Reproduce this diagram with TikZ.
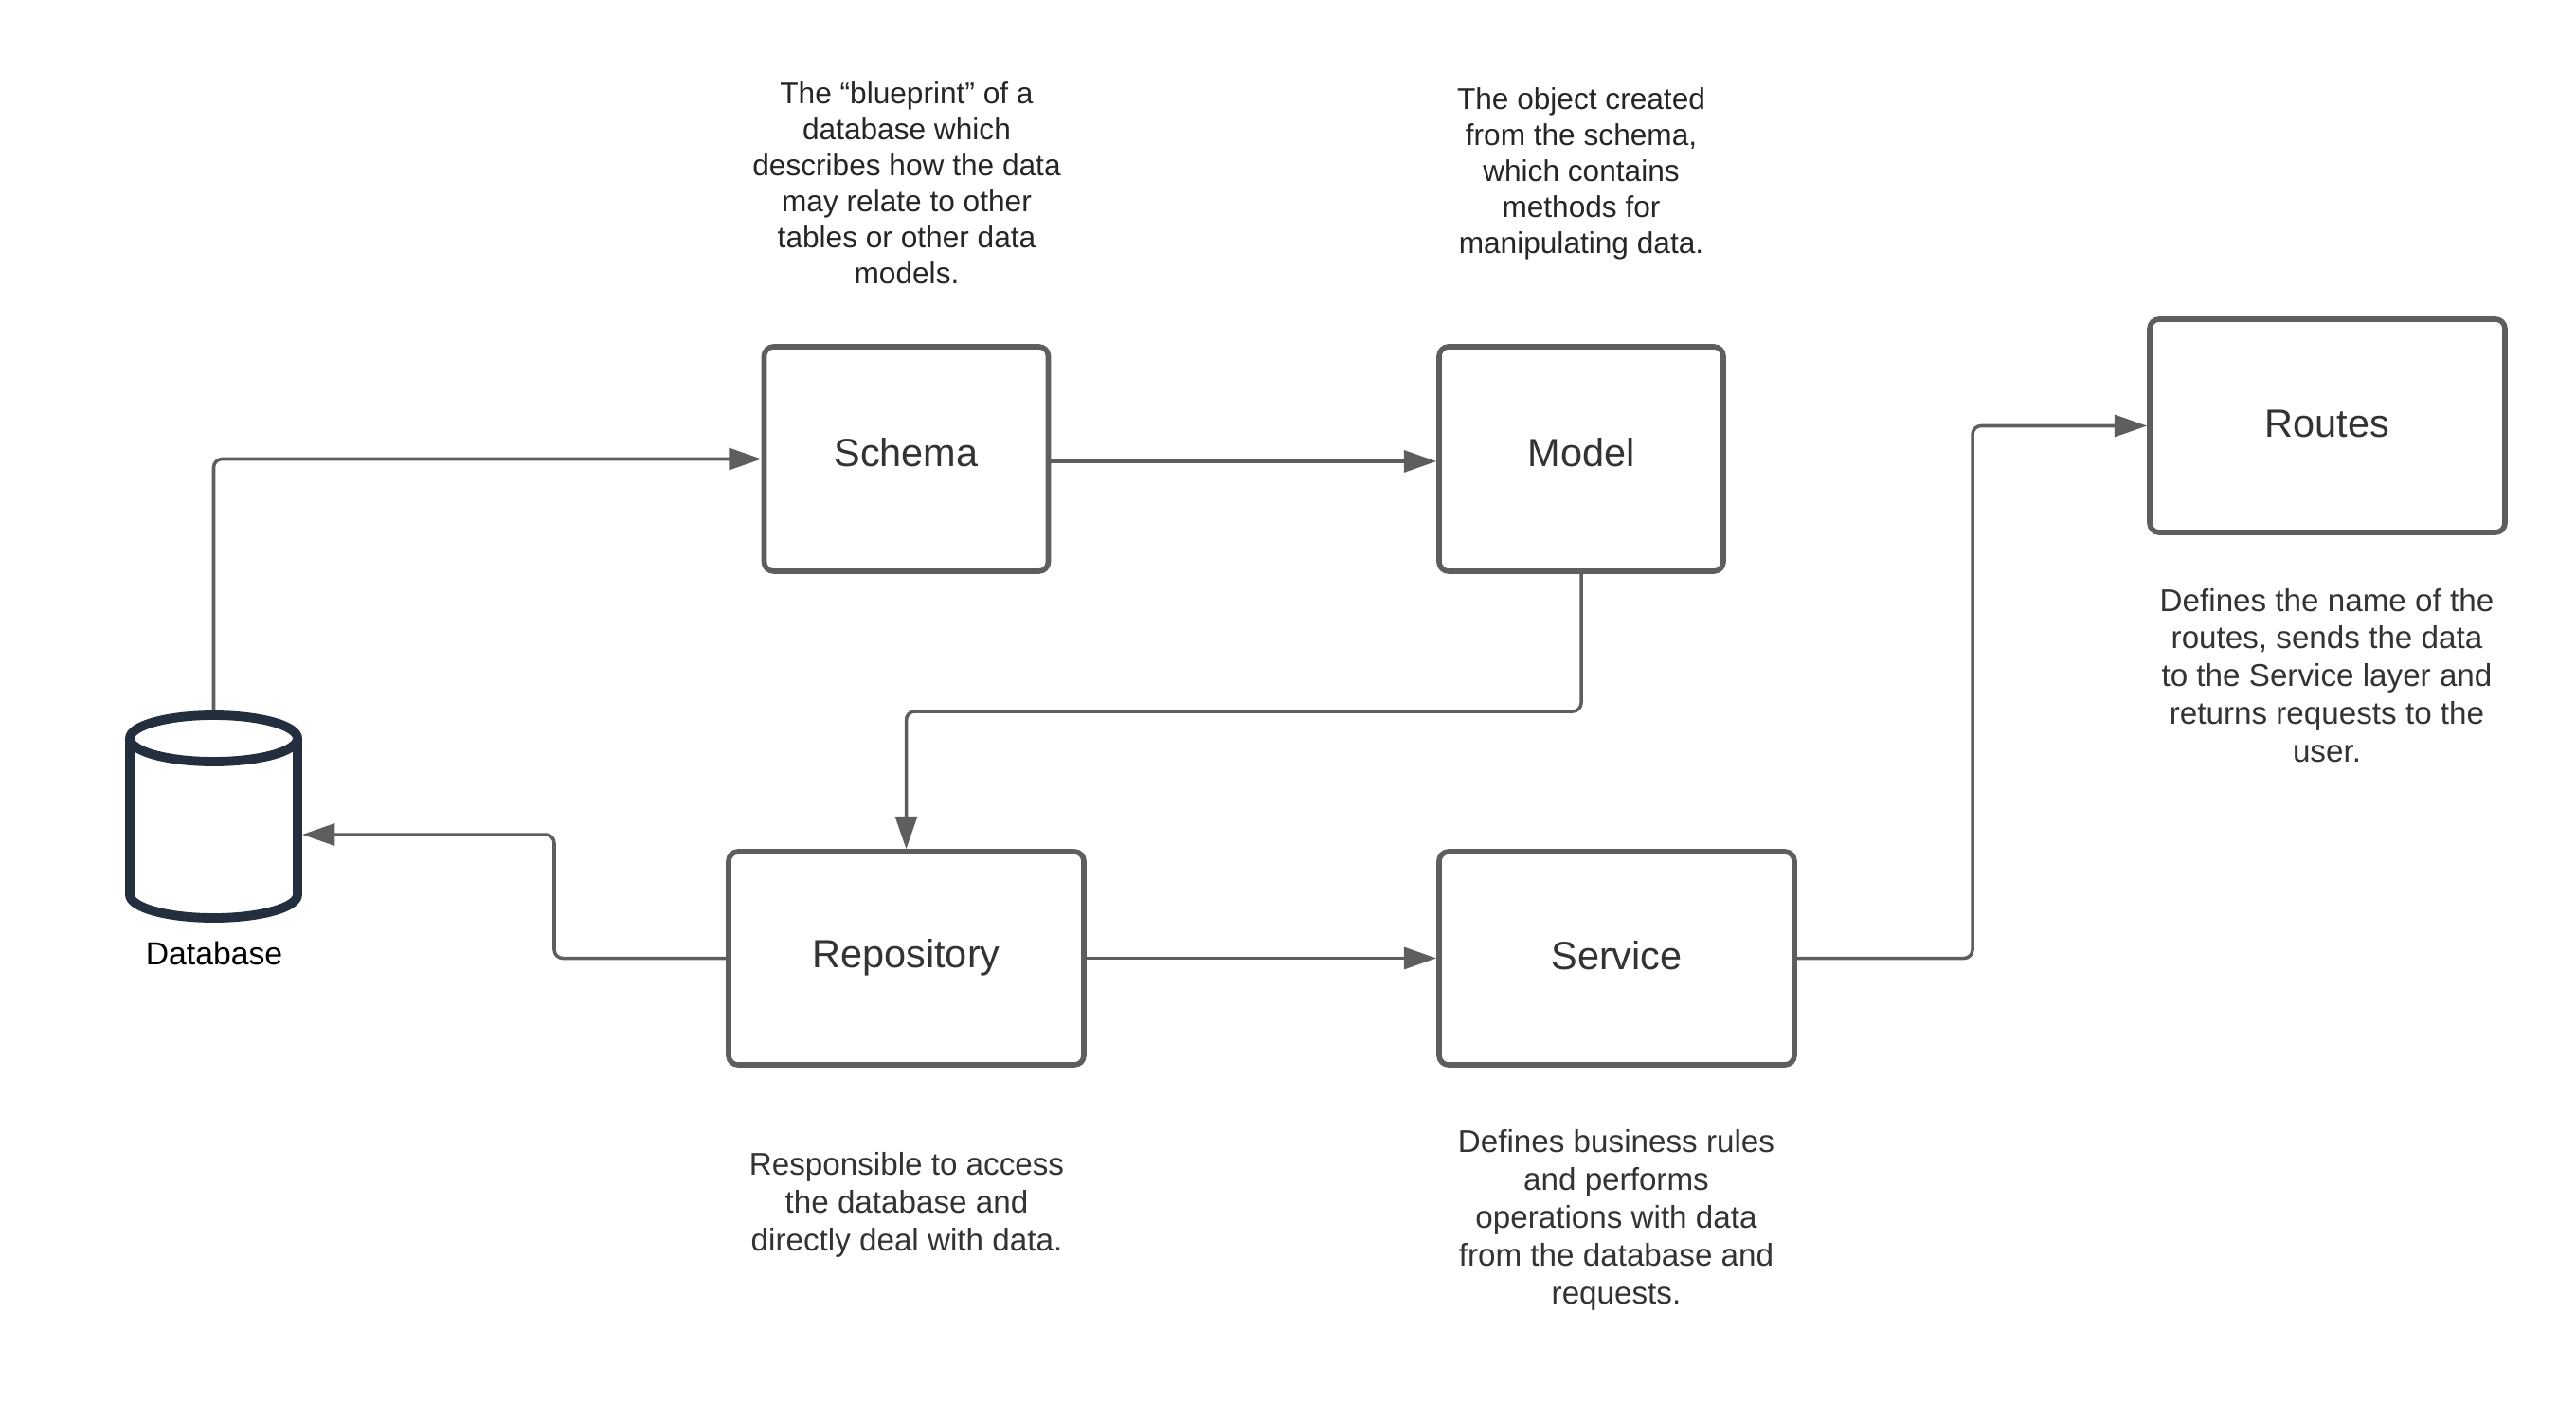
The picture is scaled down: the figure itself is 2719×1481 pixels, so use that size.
\documentclass[tikz,border=0pt]{standalone}
\usepackage{fontspec}
\setmainfont{Liberation Sans}
\usetikzlibrary{arrows.meta}
\definecolor{boxline}{HTML}{5E5E5E}
\definecolor{dbline}{HTML}{232F3E}
\definecolor{labeltext}{HTML}{333333}
\tikzset{
    box/.style={draw=boxline, line width=3.2pt, rounded corners=2mm, text=labeltext,
        font=\fontsize{23.6}{28}\selectfont, text height=17pt, text depth=5.6pt, align=center, inner sep=0pt},
    conn/.style={draw=boxline, line width=2pt, rounded corners=1.8mm,
        -{Triangle[length=19.5pt,width=13pt]}},
    dbshape/.style={draw=dbline, line width=5.6pt, line join=round},
    note/.style={align=center, font=\fontsize{18}{21.6}\selectfont, text=black!85, inner sep=0pt},
    notelow/.style={align=center, font=\fontsize{18.9}{22.7}\selectfont, text=labeltext, inner sep=0pt}
}
\begin{document}
\begin{tikzpicture}[x=0.2mm, y=-0.2mm]
    \useasboundingbox (0,0) rectangle (2719,1481);
    \node[box, minimum width=60mm, minimum height=47.4mm, text depth=7.5pt] (schema) at (956.5,484.5) {Schema};
    \node[box, minimum width=60mm, minimum height=47.4mm, text depth=7.5pt] (model) at (1669,484.5) {Model};
    \node[box, minimum width=75mm, minimum height=45mm, text depth=3.6pt] (routes) at (2456.5,449.5) {Routes};
    \node[box, minimum width=75mm, minimum height=45mm] (repo) at (956.5,1011.5) {Repository};
    \node[box, minimum width=75mm, minimum height=45mm, text depth=3.6pt] (service) at (1706.5,1011.5) {Service};
    \node[minimum width=37.4mm, minimum height=44.8mm, inner sep=0pt, outer sep=0pt] (db) at (225.5,862) {};
    \draw[dbshape] (225.5,779.5) ellipse [x radius=88.5, y radius=24.5];
    \draw[dbshape] (137,779.5) -- (137,944.5) arc [start angle=180, end angle=0, x radius=88.5, y radius=24.5] -- (314,779.5);
    \node[font=\fontsize{19.2}{23}\selectfont, text=black, inner sep=0pt] (dbtext) at (226,1006) {Database};
    \node[note] (schemanote) at (957,193) {The “blueprint” of a\\database which\\describes how the data\\may relate to other\\tables or other data\\models.};
    \node[note] (modelnote) at (1669,183.5) {The object created\\from the schema,\\which contains\\methods for\\manipulating data.};
    \node[notelow] (routesnote) at (2456,713) {Defines the name of the\\routes, sends the data\\to the Service layer and\\returns requests to the\\user.};
    \node[notelow] (reponote) at (957,1272) {Responsible to access\\the database and\\directly deal with data.};
    \node[notelow] (servicenote) at (1706,1288) {Defines business rules\\and performs\\operations with data\\from the database and\\requests.};
    \coordinate (dbport) at (319,881);
    \coordinate (repobend) at (585,1011.5);
    \coordinate (servicebend) at (2082,1011.5);
    \coordinate (modelbend) at (1669,751);
    \draw[conn] (db.north) |- (schema.west);
    \draw[conn] ([yshift=-1.4pt]schema.east) -- ([yshift=-1.4pt]model.west);
    \draw[conn] (model.south) -- (modelbend) -| (repo.north);
    \draw[conn] (repo.west) -- (repobend) |- (dbport);
    \draw[conn] (repo.east) -- (service.west);
    \draw[conn] (service.east) -- (servicebend) |- (routes.west);
\end{tikzpicture}
\end{document}
